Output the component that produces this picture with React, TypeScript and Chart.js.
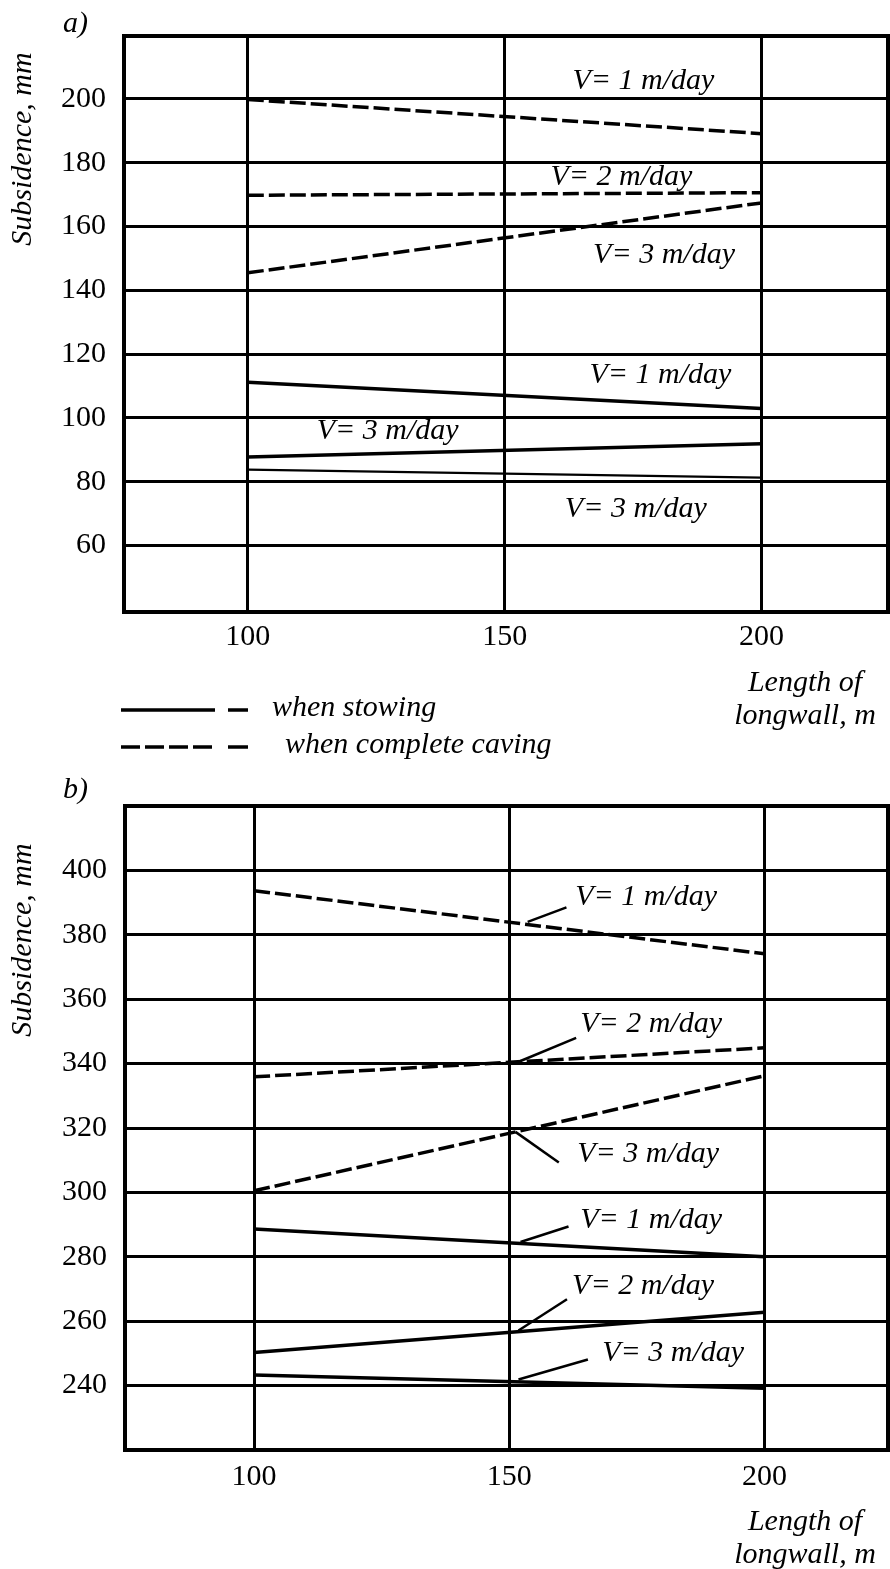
import { useEffect, useRef } from "react";
import { Chart, registerables } from "chart.js";

Chart.register(...registerables);

// Longwall lengths (m) at which every curve is given
const lengths = [100, 200];
const xTicks = [100, 150, 200];

// Panel a) subsidence, mm
const yTicksA = [60, 80, 100, 120, 140, 160, 180, 200];
const cavingA1 = [199.8, 189.1];
const cavingA2 = [169.8, 170.6];
const cavingA3 = [145.5, 167.4];
const stowingA1 = [111.2, 103.0];
const stowingA3 = [87.8, 91.9];
const stowingA3b = [83.8, 81.3];

// Panel b) subsidence, mm
const yTicksB = [240, 260, 280, 300, 320, 340, 360, 380, 400];
const cavingB1 = [393.7, 374.1];
const cavingB2 = [335.9, 344.9];
const cavingB3 = [300.5, 336.2];
const stowingB1 = [288.6, 280.0];
const stowingB2 = [250.3, 262.8];
const stowingB3 = [243.3, 239.2];

type Note = { text: string; x: number; y: number };
type Leader = [number, number, number, number];

// Curve captions (left edge, vertical middle) in axis units
const notesA: Note[] = [
  { text: "V= 1 m/day", x: 163.2, y: 205.5 },
  { text: "V= 2 m/day", x: 158.9, y: 175.6 },
  { text: "V= 3 m/day", x: 167.2, y: 150.9 },
  { text: "V= 1 m/day", x: 166.5, y: 113.3 },
  { text: "V= 3 m/day", x: 113.4, y: 95.9 },
  { text: "V= 3 m/day", x: 161.7, y: 71.3 },
];
const notesB: Note[] = [
  { text: "V= 1 m/day", x: 162.9, y: 391.6 },
  { text: "V= 2 m/day", x: 163.9, y: 352.3 },
  { text: "V= 3 m/day", x: 163.3, y: 311.8 },
  { text: "V= 1 m/day", x: 163.9, y: 291.3 },
  { text: "V= 2 m/day", x: 162.3, y: 271.0 },
  { text: "V= 3 m/day", x: 168.2, y: 250.0 },
];
// Pointer strokes from a curve to its caption, in axis units
const leadersB: Leader[] = [
  [153.6, 384.0, 161.2, 388.5],
  [152.2, 340.8, 163.1, 348.0],
  [151.2, 318.8, 159.7, 309.3],
  [152.2, 284.6, 161.6, 289.4],
  [151.8, 257.1, 161.3, 266.8],
  [151.8, 241.9, 165.4, 248.1],
];

const SERIF = "'Liberation Serif', 'Times New Roman', serif";
const ITALIC = `italic 30px ${SERIF}`;
const DASH = [16, 5];

function points(values: number[]) {
  return values.map((y, i) => ({ x: lengths[i], y }));
}

function line(values: number[], dashed: boolean, width = 3.5) {
  return {
    data: points(values),
    borderColor: "#000",
    borderWidth: width,
    borderDash: dashed ? DASH : [],
    pointRadius: 0,
    fill: false,
    tension: 0,
  };
}

type PanelCfg = {
  letter: string;
  letterY: number;
  titleY: number;
  xTitleY: number;
  notes: Note[];
  leaders: Leader[];
  legend: boolean;
};

function decorPlugin(cfg: PanelCfg) {
  return {
    id: "panelDecor",
    afterDatasetsDraw(chart: any) {
      const { ctx, chartArea: a, scales } = chart;
      const xs = scales.x;
      const ys = scales.y;
      ctx.save();
      ctx.strokeStyle = "#000";
      ctx.fillStyle = "#000";

      // frame
      ctx.lineWidth = 4;
      ctx.setLineDash([]);
      ctx.strokeRect(a.left, a.top, a.right - a.left, a.bottom - a.top);

      // pointer strokes
      ctx.lineWidth = 2.5;
      for (const [x1, y1, x2, y2] of cfg.leaders) {
        ctx.beginPath();
        ctx.moveTo(xs.getPixelForValue(x1), ys.getPixelForValue(y1));
        ctx.lineTo(xs.getPixelForValue(x2), ys.getPixelForValue(y2));
        ctx.stroke();
      }

      // curve captions
      ctx.font = ITALIC;
      ctx.textAlign = "left";
      ctx.textBaseline = "middle";
      for (const n of cfg.notes) {
        ctx.fillText(n.text, xs.getPixelForValue(n.x), ys.getPixelForValue(n.y));
      }

      // panel letter
      ctx.fillText(cfg.letter, 63, cfg.letterY);

      // x-axis title
      ctx.textAlign = "center";
      ctx.fillText("Length of", 805, cfg.xTitleY);
      ctx.fillText("longwall, m", 805, cfg.xTitleY + 33);

      // legend
      if (cfg.legend) {
        ctx.lineWidth = 3.5;
        ctx.beginPath();
        ctx.moveTo(121, 710);
        ctx.lineTo(215, 710);
        ctx.moveTo(228, 710);
        ctx.lineTo(248, 710);
        ctx.stroke();
        ctx.setLineDash([19, 5]);
        ctx.beginPath();
        ctx.moveTo(121, 747);
        ctx.lineTo(213, 747);
        ctx.stroke();
        ctx.setLineDash([]);
        ctx.beginPath();
        ctx.moveTo(228, 747);
        ctx.lineTo(248, 747);
        ctx.stroke();
        ctx.textAlign = "left";
        ctx.fillText("when stowing", 272, 708);
        ctx.fillText("when complete caving", 285, 745);
      }

      // y-axis title
      ctx.translate(23, cfg.titleY);
      ctx.rotate(-Math.PI / 2);
      ctx.textAlign = "center";
      ctx.fillText("Subsidence, mm", 0, 0);
      ctx.restore();
    },
  };
}

type PanelProps = {
  height: number;
  top: number;
  yMin: number;
  yMax: number;
  yTicks: number[];
  xMin: number;
  xMax: number;
  axisWidth: number;
  padTop: number;
  padBottom: number;
  tickPadX: number;
  datasets: any[];
  cfg: PanelCfg;
};

function Panel(p: PanelProps) {
  const ref = useRef<HTMLCanvasElement | null>(null);

  useEffect(() => {
    if (!ref.current) return;
    const chart = new Chart(ref.current, {
      type: "line",
      data: { datasets: p.datasets },
      options: {
        responsive: false,
        animation: false,
        devicePixelRatio: 1,
        events: [],
        layout: { padding: { left: 0, right: 2, top: p.padTop, bottom: p.padBottom } },
        plugins: { legend: { display: false }, tooltip: { enabled: false } },
        scales: {
          x: {
            type: "linear",
            min: p.xMin,
            max: p.xMax,
            afterBuildTicks: (s: any) => {
              s.ticks = xTicks.map((v) => ({ value: v }));
            },
            afterFit: (s: any) => {
              s.height = 40;
            },
            grid: { color: "#000", lineWidth: 3, drawTicks: false },
            border: { display: false },
            ticks: {
              color: "#000",
              padding: p.tickPadX,
              maxRotation: 0,
              font: { family: SERIF, size: 30 },
              callback: (v: any) => String(v),
            },
          },
          y: {
            type: "linear",
            min: p.yMin,
            max: p.yMax,
            afterBuildTicks: (s: any) => {
              s.ticks = p.yTicks.map((v) => ({ value: v }));
            },
            afterFit: (s: any) => {
              s.width = p.axisWidth;
            },
            grid: { color: "#000", lineWidth: 3, drawTicks: false },
            border: { display: false },
            ticks: {
              color: "#000",
              padding: 18,
              font: { family: SERIF, size: 30 },
              callback: (v: any) => String(v),
            },
          },
        },
      },
      plugins: [decorPlugin(p.cfg)],
    } as any);
    return () => chart.destroy();
  }, []);

  return (
    <canvas
      ref={ref}
      width={890}
      height={p.height}
      style={{ position: "absolute", left: 0, top: p.top, width: 890, height: p.height }}
    />
  );
}

export default function App() {
  const datasetsA = [
    line(cavingA1, true),
    line(cavingA2, true),
    line(cavingA3, true),
    line(stowingA1, false),
    line(stowingA3, false),
    line(stowingA3b, false, 2.2),
  ];
  const datasetsB = [
    line(cavingB1, true),
    line(cavingB2, true),
    line(cavingB3, true),
    line(stowingB1, false),
    line(stowingB2, false),
    line(stowingB3, false),
  ];

  return (
    <div
      style={{
        position: "absolute",
        left: 0,
        top: 0,
        width: 890,
        height: 1569,
        background: "#fff",
        overflow: "hidden",
      }}
    >
      <Panel
        height={770}
        top={0}
        yMin={39.2}
        yMax={219.7}
        yTicks={yTicksA}
        xMin={75.9}
        xMax={224.6}
        axisWidth={124}
        padTop={31}
        padBottom={118}
        tickPadX={7}
        datasets={datasetsA}
        cfg={{
          letter: "a)",
          letterY: 24,
          titleY: 149,
          xTitleY: 683,
          notes: notesA,
          leaders: [],
          legend: true,
        }}
      />
      <Panel
        height={799}
        top={770}
        yMin={220}
        yMax={420}
        yTicks={yTicksB}
        xMin={74.7}
        xMax={224.2}
        axisWidth={125}
        padTop={34}
        padBottom={79}
        tickPadX={9}
        datasets={datasetsB}
        cfg={{
          letter: "b)",
          letterY: 20,
          titleY: 170,
          xTitleY: 752,
          notes: notesB,
          leaders: leadersB,
          legend: false,
        }}
      />
    </div>
  );
}
